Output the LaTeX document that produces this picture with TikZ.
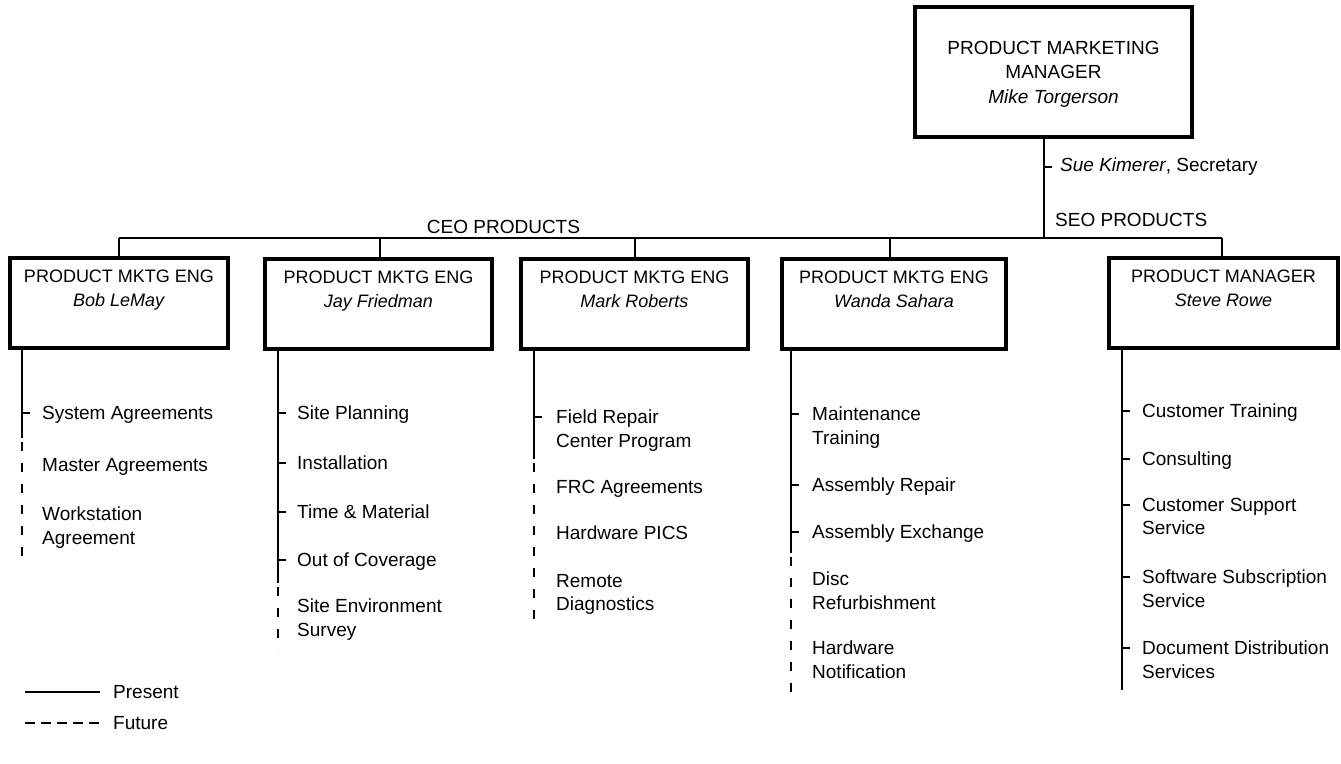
\documentclass[tikz,border=0pt]{standalone}
\usepackage{fontspec}
\setmainfont{Liberation Sans}
\newcommand{\bxt}[4]{\parbox[c][#2][t]{#1}{\centering\vspace*{#3}#4\par}}
\begin{document}
\begin{tikzpicture}[x=1pt,y=-1pt,
  font=\fontsize{19}{23.5}\selectfont,
  conn/.style={line width=1.9pt},
  fut/.style={line width=1.9pt, dash pattern=on 9pt off 12pt, dash phase=17pt},
  legfut/.style={line width=2.2pt, dash pattern=on 10pt off 6pt},
  orgbox/.style={draw, line width=4.2pt, inner sep=0pt, font=\fontsize{18}{24.5}\selectfont},
  topbox/.style={orgbox, font=\fontsize{19}{24.5}\selectfont},
  item/.style={anchor=north west, align=left, inner sep=0pt, yshift=7pt},
  lbl/.style={inner sep=0pt}
]
\useasboundingbox (0,0) rectangle (1341,763);
\fill[white] (0,0) rectangle (1341,763);

% boxes
\node[topbox] (pmm) at (1053.5,72) {\bxt{277pt}{130pt}{34.2pt}{PRODUCT MARKETING\\MANAGER\\\textit{Mike Torgerson}}};
\node[orgbox] (b1) at (119,303) {\bxt{218pt}{90pt}{11.5pt}{PRODUCT MKTG ENG\\\textit{Bob LeMay}}};
\node[orgbox] (b2) at (378.5,304) {\bxt{227pt}{90pt}{11.5pt}{PRODUCT MKTG ENG\\\textit{Jay Friedman}}};
\node[orgbox] (b3) at (634.5,304) {\bxt{227pt}{90pt}{11.5pt}{PRODUCT MKTG ENG\\\textit{Mark Roberts}}};
\node[orgbox] (b4) at (894,304) {\bxt{224pt}{90pt}{11.5pt}{PRODUCT MKTG ENG\\\textit{Wanda Sahara}}};
\node[orgbox] (b5) at (1223.5,303) {\bxt{229pt}{90pt}{11.5pt}{PRODUCT MANAGER\\\textit{Steve Rowe}}};

% top connectors
\coordinate (j0) at (1044,238);
\coordinate (j1) at (119,238);
\coordinate (j2) at (380,238);
\coordinate (j3) at (635,238);
\coordinate (j4) at (890,238);
\coordinate (j5) at (1222,238);
\draw[conn] (pmm.south -| j0) -- (j0);
\draw[conn] (j1) -- (j5);
\draw[conn] (j1) -- (j1 |- b1.north);
\draw[conn] (j2) -- (j2 |- b2.north);
\draw[conn] (j3) -- (j3 |- b3.north);
\draw[conn] (j4) -- (j4 |- b4.north);
\draw[conn] (j5) -- (j5 |- b5.north);

\node[lbl, anchor=west] (sue) at (1060,167) {\textit{Sue Kimerer}, Secretary};
\draw[conn] (sue.west -| j0) -- ++(8,0);
\node[lbl, anchor=west] (seo) at (1055,220) {SEO PRODUCTS};
\node[lbl] (ceo) at (503.5,227) {CEO PRODUCTS};

% column 1
\coordinate (c1a) at (22,438);
\coordinate (c1b) at (22,560);
\draw[conn] (b1.south -| c1a) -- (c1a);
\draw[fut] (c1a) -- (c1b);
\node[item] (i11) at (42,413) {System Agreements};
\node[item] (i12) at (42,465) {Master Agreements};
\node[item] (i13) at (42,514) {Workstation\\Agreement};
\foreach \n in {i11}{
  \coordinate (t) at ([yshift=-7pt]\n.north west);
  \draw[conn] (c1a |- t) -- ++(8,0);}

% column 2
\coordinate (c2a) at (278,583);
\coordinate (c2b) at (278,650);
\draw[conn] (b2.south -| c2a) -- (c2a);
\draw[fut] (c2a) -- (c2b);
\node[item] (i21) at (297,413) {Site Planning};
\node[item] (i22) at (297,463) {Installation};
\node[item] (i23) at (297,512) {Time \& Material};
\node[item] (i24) at (297,560) {Out of Coverage};
\node[item] (i25) at (297,606) {Site Environment\\Survey};
\foreach \n in {i21,i22,i23,i24}{
  \coordinate (t) at ([yshift=-7pt]\n.north west);
  \draw[conn] (c2a |- t) -- ++(8,0);}

% column 3
\coordinate (c3a) at (534,459);
\coordinate (c3b) at (534,625);
\draw[conn] (b3.south -| c3a) -- (c3a);
\draw[fut] (c3a) -- (c3b);
\node[item] (i31) at (556,417) {Field Repair\\Center Program};
\node[item] (i32) at (556,487) {FRC Agreements};
\node[item] (i33) at (556,533) {Hardware PICS};
\node[item] (i34) at (556,581) {Remote\\Diagnostics};
\foreach \n in {i31}{
  \coordinate (t) at ([yshift=-7pt]\n.north west);
  \draw[conn] (c3a |- t) -- ++(8,0);}

% column 4
\coordinate (c4a) at (791,553);
\coordinate (c4b) at (791,693);
\draw[conn] (b4.south -| c4a) -- (c4a);
\draw[fut] (c4a) -- (c4b);
\node[item] (i41) at (812,414) {Maintenance\\Training};
\node[item] (i42) at (812,485) {Assembly Repair};
\node[item] (i43) at (812,532) {Assembly Exchange};
\node[item] (i44) at (812,579) {Disc\\Refurbishment};
\node[item] (i45) at (812,648) {Hardware\\Notification};
\foreach \n in {i41,i42,i43}{
  \coordinate (t) at ([yshift=-7pt]\n.north west);
  \draw[conn] (c4a |- t) -- ++(8,0);}

% column 5
\coordinate (c5a) at (1122,690);
\draw[conn] (b5.south -| c5a) -- (c5a);
\node[item] (i51) at (1142,411) {Customer Training};
\node[item] (i52) at (1142,459) {Consulting};
\node[item] (i53) at (1142,505) {Customer Support\\Service};
\node[item] (i54) at (1142,577) {Software Subscription\\Service};
\node[item] (i55) at (1142,648) {Document Distribution\\Services};
\foreach \n in {i51,i52,i53,i54,i55}{
  \coordinate (t) at ([yshift=-7pt]\n.north west);
  \draw[conn] (c5a |- t) -- ++(8,0);}

% legend
\coordinate (lp1) at (25,692);
\coordinate (lp2) at (100,692);
\coordinate (lf1) at (25,723);
\coordinate (lf2) at (100,723);
\draw[line width=2.2pt] (lp1) -- (lp2);
\draw[legfut] (lf1) -- (lf2);
\node[lbl, anchor=west] (present) at (113,692) {Present};
\node[lbl, anchor=west] (future) at (113,723) {Future};
\end{tikzpicture}
\end{document}
